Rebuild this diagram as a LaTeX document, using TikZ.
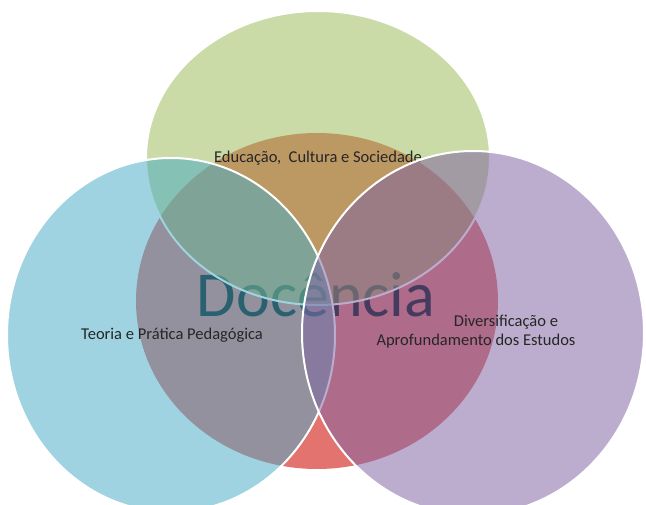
\documentclass[tikz,border=0pt]{standalone}
\usepackage{fontspec}
\setmainfont{Carlito}
\definecolor{vennred}{RGB}{226,115,111}
\definecolor{venngreen}{RGB}{155,187,89}
\definecolor{vennblue}{RGB}{75,172,198}
\definecolor{vennpurple}{RGB}{128,100,162}
\definecolor{docink}{RGB}{4,14,18}
\begin{document}
\begin{tikzpicture}[x=1pt, y=-1pt,
    venn/.style={draw=white, line width=2pt, fill opacity=0.53},
    vennlabel/.style={inner sep=0pt, anchor=base, text=black!85,
        font=\fontsize{16.5}{19}\selectfont}]
    \useasboundingbox (0, 0) rectangle (646, 505);
    \clip (0, 0) rectangle (646, 505);
    \fill[vennred] (317, 301) ellipse [x radius=181, y radius=168];
    \node[inner sep=0pt, anchor=base, text=docink,
        font=\fontsize{64}{70}\selectfont] (docencia) at (316, 317) {Docência};
    \draw[venn, fill=venngreen] (318, 158) ellipse [x radius=172, y radius=147];
    \node[vennlabel] (educacao) at (318, 163) {Educação,\ \ Cultura e Sociedade};
    \draw[venn, fill=vennblue] (171, 335) ellipse [x radius=164, y radius=177];
    \node[vennlabel] (teoria) at (172, 340) {Teoria e Prática Pedagógica};
    \draw[venn, fill=vennpurple] (473, 333) ellipse [x radius=171, y radius=182];
    \node[vennlabel] (diversificacao) at (506, 327) {Diversificação e};
    \node[vennlabel] (aprofundamento) at (476, 346)
        {Aprofundamento dos Estudos};
\end{tikzpicture}
\end{document}
